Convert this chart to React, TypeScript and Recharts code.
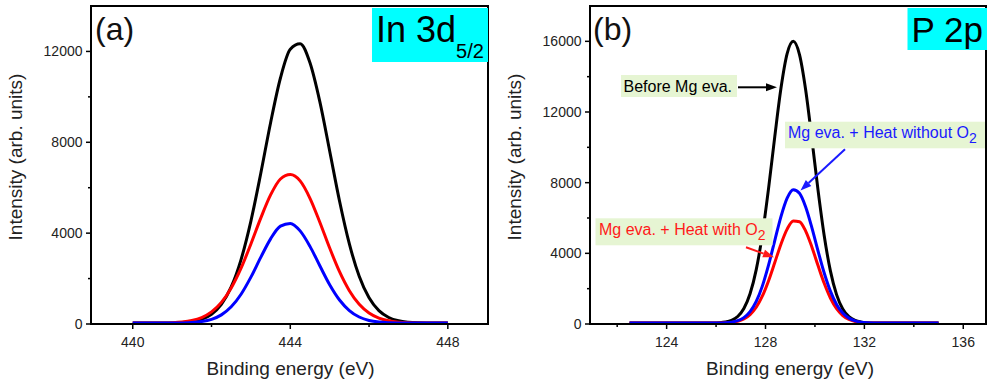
import React from 'react';
import { LineChart, Line, XAxis, YAxis, ReferenceArea } from 'recharts';

const FONT = '"Liberation Sans", Arial, Helvetica, sans-serif';

// (a) In 3d5/2 — binding energy (eV) and intensity
const energyA = [
  440, 440.25, 440.5, 440.75, 441, 441.25, 441.5, 441.75, 442, 442.25, 442.5,
  442.75, 443, 443.25, 443.5, 443.75, 444, 444.25, 444.5, 444.75, 445, 445.25,
  445.5, 445.75, 446, 446.25, 446.5, 446.75, 447, 447.25, 447.5, 447.75, 448,
];
const inBefore = [
  40, 40, 41, 42, 48, 64, 107, 210, 432, 866, 1632, 2837, 4532, 6626, 8862, 10830,
  12094, 12336, 11497, 9787, 7616, 5415, 3525, 2102, 1154, 590, 288, 142, 79, 53, 44, 41, 40,
];
const inHeatO2 = [
  40, 41, 42, 47, 59, 88, 153, 286, 533, 950, 1586, 2458, 3524, 4661, 5682, 6384,
  6580, 6301, 5535, 4481, 3344, 2304, 1468, 869, 483, 258, 139, 81, 56, 46, 42, 41, 40,
];
const inHeatNoO2 = [
  40, 40, 40, 41, 42, 48, 64, 107, 204, 402, 756, 1311, 2064, 2932, 3749, 4310,
  4430, 4100, 3418, 2563, 1730, 1057, 592, 307, 156, 85, 56, 46, 42, 40, 40, 40, 40,
];
const xTicksA = [440, 442, 444, 446, 448];
const xLabelsA = [440, 444, 448];
const yTicksA = [0, 2000, 4000, 6000, 8000, 10000, 12000];
const yLabelsA = [0, 4000, 8000, 12000];

// (b) P 2p
const energyB = [
  122.5, 123.5, 124.5, 125.5, 125.875, 126.125, 126.375, 126.625, 126.875, 127.125,
  127.375, 127.625, 127.875, 128.125, 128.375, 128.625, 128.875, 129.125, 129.375,
  129.625, 129.875, 130.125, 130.375, 130.625, 130.875, 131.125, 131.375, 131.625,
  131.875, 132.125, 132.375, 132.875, 133.5, 134.5, 135,
];
const pBefore = [
  50, 50, 50, 50, 56, 70, 109, 206, 426, 876, 1708, 3076, 5087, 7690, 10606, 13343,
  15305, 16000, 15247, 13245, 10489, 7577, 4995, 3010, 1664, 852, 414, 200, 106, 69,
  56, 50, 50, 50, 50,
];
const pHeatO2 = [
  50, 50, 50, 50, 52, 55, 66, 92, 154, 284, 530, 949, 1588, 2453, 3480, 4520, 5370,
  5833, 5791, 5256, 4361, 3310, 2302, 1470, 868, 480, 257, 141, 86, 63, 55, 50, 50, 50, 50,
];
const pHeatNoO2 = [
  50, 50, 50, 50, 52, 56, 70, 104, 187, 362, 700, 1277, 2157, 3341, 4722, 6081, 7128,
  7602, 7401, 6625, 5455, 4133, 2884, 1858, 1110, 621, 333, 179, 104, 71, 58, 50, 50, 50, 50,
];
const xTicksB = [122, 124, 126, 128, 130, 132, 134, 136];
const xLabelsB = [124, 128, 132, 136];
const yTicksB = [0, 2000, 4000, 6000, 8000, 10000, 12000, 14000, 16000];
const yLabelsB = [0, 4000, 8000, 12000, 16000];

const rowsA = energyA.map((x, i) => ({
  x, before: inBefore[i], heatO2: inHeatO2[i], heatNoO2: inHeatNoO2[i],
}));
const rowsB = energyB.map((x, i) => ({
  x, before: pBefore[i], heatO2: pHeatO2[i], heatNoO2: pHeatNoO2[i],
}));

function XTick(props: any) {
  const { x, y, payload, labels } = props;
  const major = labels.includes(payload.value);
  return (
    <g>
      <line x1={x} x2={x} y1={y} y2={y + (major ? 5 : 3)} stroke="#000" strokeWidth={1.5} />
      {major && (
        <text x={x} y={y + 22.5} textAnchor="middle" fontSize={14} fill="#222" fontFamily={FONT}>
          {payload.value}
        </text>
      )}
    </g>
  );
}

function YTick(props: any) {
  const { x, y, payload, labels } = props;
  const major = labels.includes(payload.value);
  return (
    <g>
      <line x1={x} x2={x - (major ? 5 : 3)} y1={y} y2={y} stroke="#000" strokeWidth={1.5} />
      {major && (
        <text x={x - 8.5} y={y} dy="0.36em" textAnchor="end" fontSize={14} fill="#222" fontFamily={FONT}>
          {payload.value}
        </text>
      )}
    </g>
  );
}

function Panel(props: any) {
  const { rows, xDomain, yMax, xTicks, xLabels, yTicks, yLabels, width, left, right } = props;
  return (
    <LineChart
      width={width}
      height={383}
      data={rows}
      margin={{ top: 6, right, bottom: 19, left }}
    >
      <XAxis
        type="number"
        dataKey="x"
        domain={xDomain}
        allowDataOverflow
        ticks={xTicks}
        interval={0}
        tickSize={0}
        tickMargin={0}
        tickLine={false}
        height={40}
        axisLine={{ stroke: '#000', strokeWidth: 2 }}
        tick={(p: any) => <XTick {...p} labels={xLabels} />}
      />
      <YAxis
        type="number"
        domain={[0, yMax]}
        allowDataOverflow
        ticks={yTicks}
        interval={0}
        tickSize={0}
        tickMargin={0}
        tickLine={false}
        width={80}
        axisLine={{ stroke: '#000', strokeWidth: 2 }}
        tick={(p: any) => <YTick {...p} labels={yLabels} />}
      />
      <ReferenceArea
        x1={xDomain[0]}
        x2={xDomain[1]}
        y1={0}
        y2={yMax}
        fill="none"
        stroke="#000"
        strokeWidth={2}
        ifOverflow="visible"
      />
      <Line type="monotone" dataKey="before" stroke="#000000" strokeWidth={3} dot={false} isAnimationActive={false} />
      <Line type="monotone" dataKey="heatO2" stroke="#ff0000" strokeWidth={3} dot={false} isAnimationActive={false} />
      <Line type="monotone" dataKey="heatNoO2" stroke="#0000ff" strokeWidth={3} dot={false} isAnimationActive={false} />
    </LineChart>
  );
}

function Arrow({ x1, y1, x2, y2, color }: any) {
  const dx = x2 - x1;
  const dy = y2 - y1;
  const len = Math.sqrt(dx * dx + dy * dy);
  const ux = dx / len;
  const uy = dy / len;
  const hl = 11;
  const hw = 4;
  const bx = x2 - ux * hl;
  const by = y2 - uy * hl;
  const pts = `${x2},${y2} ${bx - uy * hw},${by + ux * hw} ${bx + uy * hw},${by - ux * hw}`;
  return (
    <g>
      <line x1={x1} y1={y1} x2={bx} y2={by} stroke={color} strokeWidth={2} />
      <polygon points={pts} fill={color} />
    </g>
  );
}

const GREEN = '#e6f5d3';

export default function App() {
  return (
    <div style={{ position: 'absolute', left: 0, top: 0, width: 987, height: 383, background: '#fff', overflow: 'hidden' }}>
      <div style={{ position: 'absolute', left: 0, top: 0 }}>
        <Panel
          rows={rowsA}
          xDomain={[438.94, 449.02]}
          yMax={14000}
          xTicks={xTicksA}
          xLabels={xLabelsA}
          yTicks={yTicksA}
          yLabels={yLabelsA}
          width={495}
          left={11}
          right={7}
        />
      </div>
      <div style={{ position: 'absolute', left: 495, top: 0 }}>
        <Panel
          rows={rowsB}
          xDomain={[120.9, 136.92]}
          yMax={18000}
          xTicks={xTicksB}
          xLabels={xLabelsB}
          yTicks={yTicksB}
          yLabels={yLabelsB}
          width={492}
          left={15}
          right={1}
        />
      </div>
      <svg
        width={987}
        height={383}
        style={{ position: 'absolute', left: 0, top: 0, pointerEvents: 'none' }}
        fontFamily={FONT}
      >
        {/* axis titles */}
        <text x={290.5} y={375} textAnchor="middle" fontSize={19} fill="#222">Binding energy (eV)</text>
        <text x={790} y={375} textAnchor="middle" fontSize={19} fill="#222">Binding energy (eV)</text>
        <text transform="translate(21.5,157) rotate(-90)" textAnchor="middle" fontSize={19} fill="#222">
          Intensity (arb. units)
        </text>
        <text transform="translate(521,157) rotate(-90)" textAnchor="middle" fontSize={19} fill="#222">
          Intensity (arb. units)
        </text>

        {/* panel tags */}
        <text x={95} y={40} fontSize={32} fill="#111">(a)</text>
        <text x={593} y={40} fontSize={32} fill="#111">(b)</text>

        <rect x={372} y={8} width={116} height={54} fill="#00ffff" />
        <text x={376} y={42.3} fontSize={36} fill="#000">
          In 3d<tspan fontSize={20} dy={15.7}>5/2</tspan>
        </text>
        <rect x={907.5} y={8} width={79.5} height={42} fill="#00ffff" />
        <text x={911.5} y={41.7} fontSize={35} fill="#000">P 2p</text>

        {/* annotations in (b) */}
        <rect x={621} y={75} width={116} height={22} fill={GREEN} />
        <text x={623.5} y={91.7} fontSize={16} fill="#000">Before Mg eva.</text>
        <Arrow x1={738} y1={87.3} x2={777} y2={87.3} color="#000" />

        <rect x={785} y={121.7} width={200} height={26.6} fill={GREEN} />
        <text x={788} y={138.3} fontSize={16} fill="#1a1aff">
          Mg eva. + Heat without O<tspan fontSize={14} dy={5}>2</tspan>
        </text>
        <Arrow x1={845} y1={149.3} x2={800.5} y2={190.5} color="#1a1aff" />

        <rect x={595.5} y={218.3} width={177} height={27} fill={GREEN} />
        <text x={599} y={235} fontSize={16} fill="#ff1a1a">
          Mg eva. + Heat with O<tspan fontSize={14} dy={5}>2</tspan>
        </text>
        <Arrow x1={746} y1={247.3} x2={774} y2={257.3} color="#ff1a1a" />
      </svg>
    </div>
  );
}
